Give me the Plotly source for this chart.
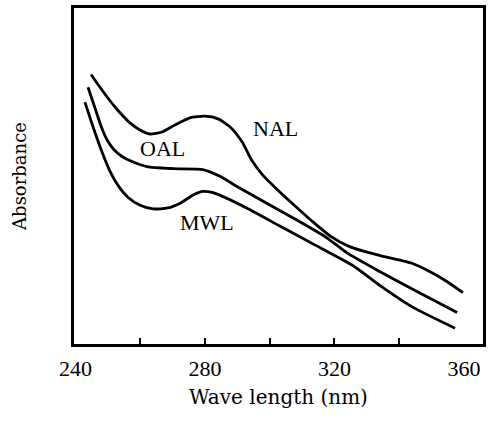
import plotly.graph_objects as go

# Wavelength (nm) and relative absorbance
nal_nm = [244.80, 247.57, 250.66, 253.13, 256.84, 259.93, 263.01, 266.70, 270.70, 275.33, 279.97, 284.07,
          287.76, 291.44, 294.49, 297.65, 302.28, 307.23, 313.02, 318.60, 324.81, 334.08, 344.29, 349.55,
          354.71, 359.66]
nal_abs = [0.802, 0.764, 0.724, 0.695, 0.658, 0.637, 0.625, 0.631, 0.652, 0.673, 0.678, 0.670, 0.646,
           0.602, 0.546, 0.505, 0.460, 0.416, 0.366, 0.322, 0.289, 0.263, 0.239, 0.215, 0.186, 0.153]

oal_nm = [243.86, 246.03, 247.88, 249.73, 251.90, 254.37, 257.45, 262.07, 270.07, 279.33, 284.60, 289.86,
          297.97, 307.23, 317.65, 323.87, 334.08, 344.29, 357.87]
oal_abs = [0.764, 0.702, 0.649, 0.608, 0.578, 0.558, 0.543, 0.528, 0.522, 0.519, 0.499, 0.469, 0.425,
           0.375, 0.316, 0.271, 0.215, 0.162, 0.094]

mwl_nm = [242.91, 245.44, 248.17, 250.70, 253.12, 256.17, 259.96, 263.96, 268.50, 272.50, 276.50, 279.33,
          282.18, 285.23, 293.02, 303.13, 313.34, 325.76, 334.08, 344.29, 357.24]
mwl_abs = [0.720, 0.646, 0.572, 0.513, 0.472, 0.437, 0.413, 0.402, 0.405, 0.420, 0.444, 0.454, 0.451,
           0.440, 0.404, 0.351, 0.298, 0.233, 0.174, 0.109, 0.047]

series_names = ["NAL", "OAL", "MWL"]
label_nm = [301.65, 267.02, 280.60]
label_abs = [0.640, 0.581, 0.363]

x_range = [239.54, 365.87]
x_tick_vals = [240, 280, 320, 360]
x_minor_vals = [260, 280, 300, 320, 340]

serif = "Liberation Serif, Times New Roman, serif"

fig = go.Figure()
for xs, ys in [(nal_nm, nal_abs), (oal_nm, oal_abs), (mwl_nm, mwl_abs)]:
    fig.add_trace(go.Scatter(x=xs, y=ys, mode="lines",
                             line=dict(color="black", width=2.8, shape="spline", smoothing=0.6),
                             showlegend=False, hoverinfo="skip"))

for name, lx, ly in zip(series_names, label_nm, label_abs):
    fig.add_annotation(x=lx, y=ly, text=name, showarrow=False,
                       font=dict(family=serif, size=22, color="black"))

fig.update_layout(
    width=499, height=424,
    margin=dict(l=74, r=16, t=5, b=80),
    paper_bgcolor="white", plot_bgcolor="white",
    xaxis=dict(range=x_range, tickvals=x_tick_vals, ticktext=[str(v) for v in x_tick_vals],
               ticks="", showgrid=False, zeroline=False,
               showline=True, linecolor="black", linewidth=3, mirror=True,
               tickfont=dict(family=serif, size=22, color="black"), ticklabelstandoff=3,
               ticklabeloverflow="allow",
               minor=dict(tickvals=x_minor_vals, ticks="inside", ticklen=6, tickwidth=2,
                          tickcolor="black", showgrid=False),
               title=dict(text="Wave length (nm)",
                          font=dict(family="DejaVu Serif", size=20, color="black"), standoff=10)),
    yaxis=dict(range=[0, 1], showticklabels=False, ticks="", showgrid=False, zeroline=False,
               showline=True, linecolor="black", linewidth=3, mirror=True,
               title=dict(text="Absorbance", font=dict(family="DejaVu Serif", size=18, color="black"),
                          standoff=40)),
)

fig.write_html("out.html", config={"displayModeBar": False},
               post_script="document.body.style.margin='0';")
